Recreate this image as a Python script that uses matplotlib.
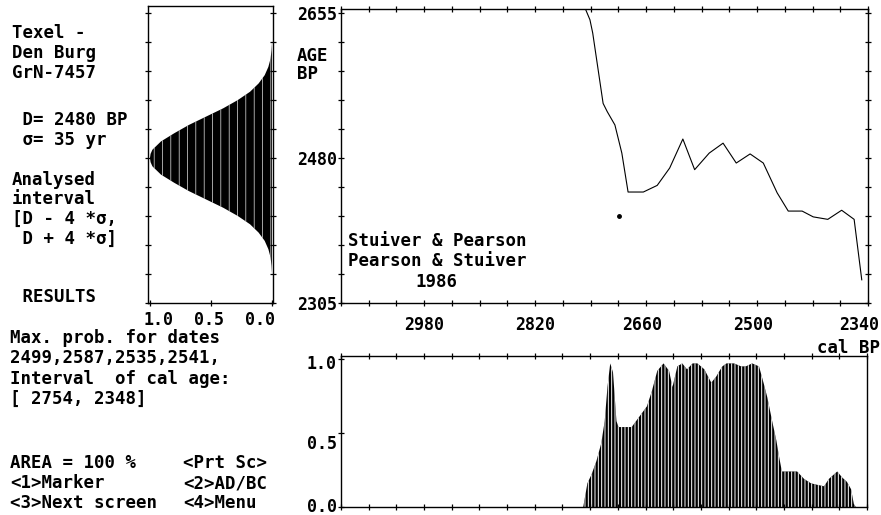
import matplotlib.pyplot as plt
from matplotlib.transforms import ScaledTranslation

plt.rcParams['font.family'] = ['DejaVu Sans Mono', 'DejaVu Sans']
plt.rcParams['font.weight'] = 'bold'
plt.rcParams['hatch.linewidth'] = 0.7

# --- data read off the screen dump ---
# calibration curve (cal BP -> 14C age BP)
cal_years = [2748, 2741, 2737, 2722, 2716, 2705, 2695, 2686, 2664, 2644, 2626,
             2607, 2590, 2569, 2549, 2530, 2510, 2491, 2471, 2455, 2435, 2419,
             2398, 2378, 2360, 2349]
cal_ages = [2661, 2647, 2631, 2546, 2536, 2520, 2486, 2439, 2439, 2447, 2468,
            2503, 2466, 2486, 2498, 2474, 2485, 2474, 2438, 2416, 2416, 2409,
            2406, 2417, 2406, 2333]
marker_year = 2699
marker_age = 2410

# measured date distribution (14C age BP -> relative prob.)
gauss_ages = [2340, 2350, 2360, 2370, 2380, 2390, 2400, 2410, 2420, 2430,
              2440, 2450, 2460, 2470, 2475, 2480, 2485, 2490, 2500, 2510,
              2520, 2530, 2540, 2550, 2560, 2570, 2580, 2590, 2600, 2610, 2620]
gauss_probs = [0.0, 0.004, 0.012, 0.03, 0.06, 0.11, 0.18, 0.28, 0.40, 0.54,
               0.68, 0.80, 0.91, 0.98, 0.995, 1.0, 0.995, 0.98, 0.91, 0.80,
               0.68, 0.54, 0.40, 0.28, 0.18, 0.11, 0.06, 0.03, 0.012, 0.004,
               0.0]

# calibrated probability (cal BP -> relative prob.)
prob_years = [2750, 2744, 2738, 2731, 2724, 2719, 2715, 2711, 2707, 2702, 2699,
              2680, 2669, 2658, 2651, 2643, 2634, 2626, 2621, 2614, 2607, 2600,
              2592, 2585, 2575, 2565, 2558, 2553, 2549, 2543, 2532, 2522, 2515,
              2506, 2496, 2489, 2484, 2477, 2471, 2467, 2463, 2453, 2441, 2431,
              2421, 2412, 2402, 2395, 2383, 2376, 2369, 2363, 2359, 2356]
prob_vals = [0.0, 0.16, 0.22, 0.31, 0.43, 0.58, 0.81, 0.97, 0.91, 0.58, 0.54,
             0.54, 0.61, 0.68, 0.78, 0.92, 0.97, 0.92, 0.81, 0.95, 0.97, 0.93,
             0.97, 0.97, 0.93, 0.84, 0.88, 0.92, 0.95, 0.97, 0.97, 0.95, 0.95,
             0.97, 0.95, 0.83, 0.74, 0.58, 0.45, 0.34, 0.24, 0.24, 0.24, 0.19,
             0.16, 0.15, 0.14, 0.19, 0.24, 0.20, 0.17, 0.12, 0.02, 0.0]

cal_tick_labels = [2980, 2820, 2660, 2500, 2340]
age_tick_labels = [2655, 2480, 2305]
prob_tick_labels = ["0.0", "0.5", "1.0"]
gauss_tick_labels = ["1.0", "0.5", "0.0"]

left_text = [
    ("Texel -", 12, 38), ("Den Burg", 12, 58), ("GrN-7457", 12, 78),
    (" D= 2480 BP", 12, 125), (" σ= 35 yr", 12, 145),
    ("Analysed", 12, 185), ("interval", 12, 204),
    ("[D - 4 *σ,", 12, 224), (" D + 4 *σ]", 12, 244),
    (" RESULTS", 12, 302),
    ("Max. prob. for dates", 10, 343), ("2499,2587,2535,2541,", 10, 363),
    ("Interval  of cal age:", 10, 384), ("[ 2754, 2348]", 10, 404),
    ("AREA = 100 %", 10, 468), ("<Prt Sc>", 183, 468),
    ("<1>Marker", 10, 488), ("<2>AD/BC", 183, 488),
    ("<3>Next screen", 10, 508), ("<4>Menu", 183, 508),
]

W, H = 881, 515
FS = 12.5


def box(x0, y0, x1, y1):
    # pixel box, origin top-left -> figure fraction rect
    return [x0 / W, 1 - y1 / H, (x1 - x0) / W, (y1 - y0) / H]


def nudge(fig, lab, dx=0, dy=0):
    # move a tick label by some pixels (dy > 0 is up)
    lab.set_transform(lab.get_transform()
                      + ScaledTranslation(dx / 100, dy / 100, fig.dpi_scale_trans))


fig = plt.figure(figsize=(8.81, 5.15), dpi=100)

ax_g = fig.add_axes(box(148, 6, 273, 303))
ax_c = fig.add_axes(box(341, 9, 868, 303))
ax_p = fig.add_axes(box(341, 356, 867, 507))

for ax in (ax_g, ax_c, ax_p):
    for sp in ax.spines.values():
        sp.set_linewidth(1.0)
    ax.tick_params(direction='inout', length=4, width=0.9, labelsize=12)

age_ticks = list(range(2305, 2656, 35))
year_ticks = list(range(2340, 3101, 40))

# gaussian of the measured date
with plt.rc_context({'hatch.linewidth': 0.45}):
    ax_g.fill_betweenx(gauss_ages, 0, gauss_probs, facecolor='black',
                       edgecolor='white', hatch='||', linewidth=0)
ax_g.set_xlim(1.016, -0.008)
ax_g.set_ylim(2305, 2663.5)
ax_g.set_yticks(age_ticks)
ax_g.set_yticklabels([])
ax_g.set_xticks([1.0, 0.5, 0.0])
ax_g.set_xticklabels(gauss_tick_labels)
ax_g.tick_params(axis='y', left=True, right=True)
ax_g.tick_params(axis='x', pad=4)
for lab, dx in zip(ax_g.get_xticklabels(), [9, -2, -12]):
    nudge(fig, lab, dx=dx)

# calibration curve
ax_c.plot(cal_years, cal_ages, color='black', linewidth=0.8)
ax_c.plot([marker_year], [marker_age], 'o', color='black', markersize=2.5)
ax_c.set_xlim(3100, 2340)
ax_c.set_ylim(2305, 2660)
ax_c.set_xticks(year_ticks)
ax_c.set_xticklabels([str(v) if v in cal_tick_labels else '' for v in year_ticks])
ax_c.set_yticks(age_ticks)
ax_c.set_yticklabels([str(v) if v in age_tick_labels else '' for v in age_ticks])
ax_c.tick_params(top=True, right=True)
ax_c.tick_params(axis='x', pad=7)
ax_c.tick_params(axis='y', pad=0.5)
x_shift = {"2660": -4, "2500": -4, "2340": -9}
for lab in ax_c.get_xticklabels():
    if lab.get_text() in x_shift:
        nudge(fig, lab, dx=x_shift[lab.get_text()])

fig.text(297 / W, 1 - 61 / H, "AGE", fontsize=FS)
fig.text(297 / W, 1 - 79 / H, "BP", fontsize=FS)
fig.text(348 / W, 1 - 246 / H, "Stuiver & Pearson", fontsize=FS)
fig.text(348 / W, 1 - 266 / H, "Pearson & Stuiver", fontsize=FS)
fig.text(415 / W, 1 - 287 / H, "1986", fontsize=FS)
fig.text(880 / W, 1 - 353 / H, "cal BP", fontsize=FS, ha='right')

# calibrated probability distribution
ax_p.fill_between(prob_years, 0, prob_vals, facecolor='black',
                  edgecolor='white', hatch='|||||', linewidth=0)
ax_p.set_xlim(3100, 2340)
ax_p.set_ylim(0, 1.02)
ax_p.set_xticks(year_ticks)
ax_p.set_xticklabels([])
ax_p.set_yticks([0, 0.5, 1.0])
ax_p.set_yticklabels(prob_tick_labels)
ax_p.tick_params(axis='x', top=True)
ax_p.tick_params(axis='y', pad=1)
for lab, dy in zip(ax_p.get_yticklabels(), [2, -9, -3]):
    nudge(fig, lab, dy=dy)

for s, x, y in left_text:
    fig.text(x / W, 1 - y / H, s, fontsize=FS, va='baseline')

fig.savefig("out.png", dpi=100)
